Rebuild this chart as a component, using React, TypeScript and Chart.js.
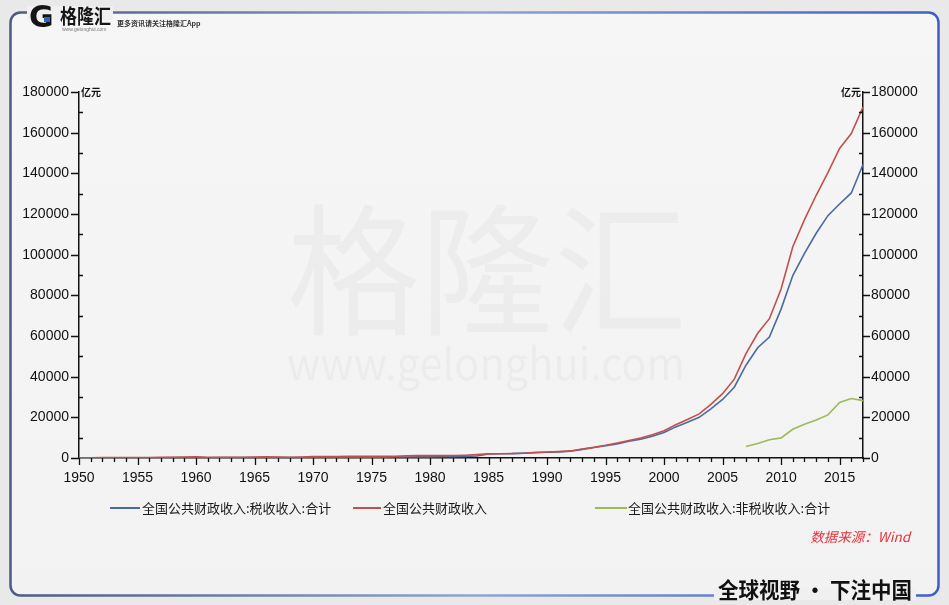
import React, { useEffect, useRef } from "react";
import { Chart, registerables } from "chart.js";

Chart.register(...registerables);

const years = [
  1950, 1951, 1952, 1953, 1954, 1955, 1956, 1957, 1958, 1959,
  1960, 1961, 1962, 1963, 1964, 1965, 1966, 1967, 1968, 1969,
  1970, 1971, 1972, 1973, 1974, 1975, 1976, 1977, 1978, 1979,
  1980, 1981, 1982, 1983, 1984, 1985, 1986, 1987, 1988, 1989,
  1990, 1991, 1992, 1993, 1994, 1995, 1996, 1997, 1998, 1999,
  2000, 2001, 2002, 2003, 2004, 2005, 2006, 2007, 2008, 2009,
  2010, 2011, 2012, 2013, 2014, 2015, 2016, 2017,
];

const taxRevenue = [
  49, 81, 98, 120, 132, 127, 141, 155, 187, 205,
  204, 159, 162, 164, 182, 204, 222, 196, 191, 242,
  281, 313, 333, 349, 360, 403, 408, 468, 519, 538,
  572, 630, 700, 776, 947, 2041, 2091, 2140, 2390, 2727,
  2822, 2990, 3297, 4255, 5127, 6038, 6910, 8234, 9263, 10683,
  12582, 15301, 17636, 20017, 24166, 28779, 34804, 45622, 54224, 59522,
  73211, 89738, 100614, 110531, 119175, 124922, 130361, 144370,
];

const totalRevenue = [
  62, 125, 174, 213, 245, 249, 280, 303, 380, 487,
  572, 356, 314, 342, 400, 473, 559, 419, 361, 527,
  663, 745, 767, 810, 783, 816, 777, 874, 1132, 1146,
  1160, 1176, 1212, 1367, 1643, 2005, 2122, 2199, 2357, 2665,
  2937, 3149, 3483, 4349, 5218, 6242, 7408, 8651, 9876, 11444,
  13395, 16386, 18904, 21715, 26396, 31649, 38760, 51322, 61330, 68518,
  83102, 103874, 117254, 129210, 140370, 152269, 159605, 172593,
];

const nonTaxYears = [2007, 2008, 2009, 2010, 2011, 2012, 2013, 2014, 2015, 2016, 2017];
const nonTaxRevenue = [5700, 7107, 8997, 9891, 14136, 16639, 18679, 21195, 27347, 29244, 28223];

const xTickLabels = [1950, 1955, 1960, 1965, 1970, 1975, 1980, 1985, 1990, 1995, 2000, 2005, 2010, 2015];
const yTickValues = [0, 20000, 40000, 60000, 80000, 100000, 120000, 140000, 160000, 180000];

const seriesNames = [
  "全国公共财政收入:税收收入:合计",
  "全国公共财政收入",
  "全国公共财政收入:非税收收入:合计",
];
const seriesColors = ["#4a6b9e", "#c0504d", "#9bbb59"];

const W = 949;
const H = 605;
const CJK = '"Noto Sans CJK SC", "Noto Sans", sans-serif';
const NUM = '"Liberation Sans", Arial, sans-serif';

function fitText(ctx: CanvasRenderingContext2D, text: string, x: number, y: number, width: number, sy = 1) {
  const w = ctx.measureText(text).width;
  ctx.save();
  ctx.translate(x, y);
  ctx.scale(width / w, sy);
  ctx.fillText(text, 0, 0);
  ctx.restore();
}

const decorPlugin = {
  id: "decor",
  beforeDraw(chart: any) {
    const ctx = chart.ctx as CanvasRenderingContext2D;
    ctx.save();
    ctx.fillStyle = "#e9e9e9";
    ctx.fillRect(0, 0, W, H);
    const g = ctx.createLinearGradient(0, 12, 0, 596);
    g.addColorStop(0, "#f6f6f6");
    g.addColorStop(1, "#f2f2f2");
    ctx.fillStyle = g;
    ctx.beginPath();
    (ctx as any).roundRect(10.5, 12.5, 928, 583, 10);
    ctx.fill();
    const sg = ctx.createLinearGradient(10, 0, 940, 0);
    sg.addColorStop(0, "#4d5b82");
    sg.addColorStop(0.5, "#8fa6cf");
    sg.addColorStop(1, "#3f5fc4");
    ctx.strokeStyle = sg;
    ctx.lineWidth = 2.5;
    ctx.stroke();
    ctx.fillStyle = "#f0f0f0";
    ctx.fillRect(27, 6, 86, 14);
    ctx.fillRect(714, 588, 202, 12);

    // watermark
    ctx.fillStyle = "rgba(0,0,0,0.03)";
    ctx.textBaseline = "alphabetic";
    ctx.textAlign = "left";
    ctx.font = `150px ${CJK}`;
    fitText(ctx, "格隆汇", 287, 324, 400, 0.95);
    ctx.font = `44px ${CJK}`;
    fitText(ctx, "www.gelonghui.com", 287, 380, 398);

    // logo
    ctx.fillStyle = "#151515";
    ctx.font = `bold 30px "DejaVu Sans", sans-serif`;
    ctx.fillText("G", 29, 27);
    ctx.fillStyle = "#2f66c4";
    ctx.fillRect(44, 17, 6, 5);
    ctx.fillStyle = "#151515";
    ctx.font = `bold 20px ${CJK}`;
    fitText(ctx, "格隆汇", 60, 24, 51);
    ctx.fillStyle = "#777";
    ctx.font = `5px ${NUM}`;
    ctx.fillText("www.gelonghui.com", 62, 31);
    ctx.fillStyle = "#333";
    ctx.font = `bold 7px ${CJK}`;
    ctx.fillText("更多资讯请关注格隆汇App", 117, 26);
    ctx.restore();
  },
  afterDraw(chart: any) {
    const ctx = chart.ctx as CanvasRenderingContext2D;
    const xs = chart.scales.x;
    const ys = chart.scales.y;
    const area = chart.chartArea;
    ctx.save();
    ctx.strokeStyle = "#111";
    ctx.lineWidth = 1.3;
    ctx.beginPath();
    for (let yr = 1950; yr <= 2017; yr++) {
      const px = Math.round(xs.getPixelForValue(yr)) + 0.5;
      const len = yr % 5 === 0 ? 7 : 4;
      ctx.moveTo(px, area.bottom);
      ctx.lineTo(px, area.bottom + len);
    }
    for (let v = 0; v <= 180000; v += 10000) {
      const py = Math.round(ys.getPixelForValue(v)) + 0.5;
      if (v % 20000 === 0) {
        ctx.moveTo(area.left, py);
        ctx.lineTo(area.left - 8, py);
        ctx.moveTo(area.right, py);
        ctx.lineTo(area.right + 7, py);
      } else {
        ctx.moveTo(area.left, py);
        ctx.lineTo(area.left + 4, py);
        ctx.moveTo(area.right, py);
        ctx.lineTo(area.right - 4, py);
      }
    }
    ctx.stroke();

    ctx.fillStyle = "#111";
    ctx.font = `bold 10px ${CJK}`;
    ctx.textBaseline = "middle";
    ctx.textAlign = "left";
    ctx.fillText("亿元", area.left + 2, area.top);
    ctx.textAlign = "right";
    ctx.fillText("亿元", area.right - 2, area.top);

    const legendY = 508;
    const items = [
      { x1: 110, x2: 140, tx: 142 },
      { x1: 353, x2: 381, tx: 383 },
      { x1: 595, x2: 627, tx: 628 },
    ];
    ctx.font = `13px ${CJK}`;
    ctx.textAlign = "left";
    items.forEach((it, i) => {
      ctx.strokeStyle = seriesColors[i];
      ctx.lineWidth = 2;
      ctx.beginPath();
      ctx.moveTo(it.x1, legendY);
      ctx.lineTo(it.x2, legendY);
      ctx.stroke();
      ctx.fillStyle = "#1a1a1a";
      ctx.fillText(seriesNames[i], it.tx, legendY);
    });

    ctx.fillStyle = "#e8323c";
    ctx.font = `italic 13.5px ${CJK}`;
    ctx.textAlign = "right";
    ctx.fillText("数据来源：Wind", 910, 537);

    ctx.fillStyle = "#111";
    ctx.font = `bold 22px ${CJK}`;
    ctx.textAlign = "left";
    fitText(ctx, "全球视野 · 下注中国", 718, 590, 194);
    ctx.restore();
  },
};

export default function App() {
  const ref = useRef<HTMLCanvasElement | null>(null);
  useEffect(() => {
    if (!ref.current) return;
    const mk = (xsArr: number[], vals: number[]) => xsArr.map((x, i) => ({ x, y: vals[i] }));
    const tickFont = { family: NUM, size: 14 };
    const chart = new Chart(ref.current, {
      type: "line",
      data: {
        datasets: [
          { label: seriesNames[0], data: mk(years, taxRevenue), borderColor: seriesColors[0], borderWidth: 1.6, pointRadius: 0, order: 1 },
          { label: seriesNames[1], data: mk(years, totalRevenue), borderColor: seriesColors[1], borderWidth: 1.6, pointRadius: 0, order: 0 },
          { label: seriesNames[2], data: mk(nonTaxYears, nonTaxRevenue), borderColor: seriesColors[2], borderWidth: 1.6, pointRadius: 0, order: 2 },
        ],
      },
      options: {
        animation: false,
        responsive: false,
        devicePixelRatio: 1,
        layout: { padding: { top: 92, left: 0, right: 0, bottom: 0 } },
        plugins: { legend: { display: false }, tooltip: { enabled: false } },
        scales: {
          x: {
            type: "linear",
            min: 1950,
            max: 2017,
            afterBuildTicks: (s: any) => {
              s.ticks = xTickLabels.map((v) => ({ value: v }));
            },
            afterFit: (s: any) => {
              s.height = H - 458;
            },
            ticks: { font: tickFont, color: "#111", padding: 12, maxRotation: 0, autoSkip: false, callback: (v: any) => String(v) },
            grid: { display: false, tickLength: 0 },
            border: { display: true, color: "#111", width: 1.5 },
          },
          y: {
            position: "left",
            min: 0,
            max: 180000,
            afterBuildTicks: (s: any) => {
              s.ticks = yTickValues.map((v) => ({ value: v }));
            },
            afterFit: (s: any) => {
              s.width = 79;
            },
            ticks: { font: tickFont, color: "#111", padding: 10, callback: (v: any) => String(v) },
            grid: { display: false, tickLength: 0 },
            border: { display: true, color: "#111", width: 1.5 },
          },
          y2: {
            position: "right",
            min: 0,
            max: 180000,
            afterBuildTicks: (s: any) => {
              s.ticks = yTickValues.map((v) => ({ value: v }));
            },
            afterFit: (s: any) => {
              s.width = W - 863;
            },
            ticks: { font: tickFont, color: "#111", padding: 8, callback: (v: any) => String(v) },
            grid: { display: false, tickLength: 0 },
            border: { display: true, color: "#111", width: 1.5 },
          },
        },
      } as any,
      plugins: [decorPlugin],
    });
    return () => chart.destroy();
  }, []);
  return (
    <div style={{ position: "absolute", left: 0, top: 0, width: W, height: H }}>
      <canvas ref={ref} width={W} height={H} style={{ display: "block" }} />
    </div>
  );
}
